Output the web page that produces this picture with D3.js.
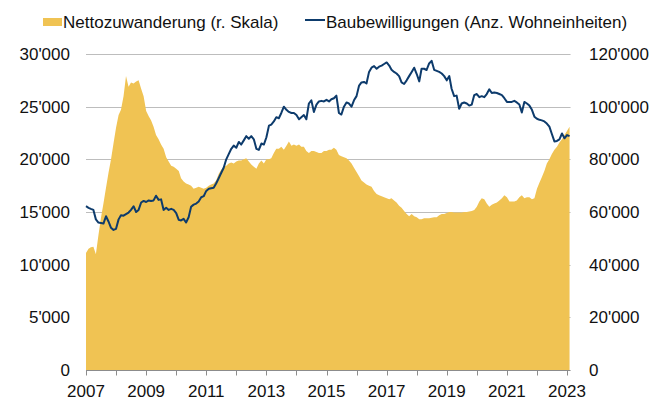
<!DOCTYPE html>
<html>
<head>
<meta charset="utf-8">
<script src="https://cdn.jsdelivr.net/npm/d3@7"></script>
<style>
body { margin: 0; background: #fff; }
svg text { font-family: "Liberation Sans", Arial, Helvetica, sans-serif; font-size: 17px; fill: #111; }
</style>
</head>
<body>
<div id="chart"></div>
<script>
// Monthly values, starting January 2007
// Nettozuwanderung (right scale)
var nettozuwanderung = [
    44400, 46000, 46600, 46800, 44000, 51200, 57600, 63200, 69200, 74800, 80000, 86000,   // 2007
    92000, 96800, 98800, 104000, 111600, 107600, 109200, 108800, 109600, 110000, 106800, 104000, // 2008
    98400, 96400, 94800, 92400, 89200, 87600, 85600, 84000, 80800, 79200, 77600, 77200,   // 2009
    76400, 75600, 72800, 71600, 70800, 70400, 70000, 68800, 69200, 69600, 69200, 68800,   // 2010
    69200, 70000, 70400, 70800, 72000, 74400, 76000, 77200, 77600, 78400, 78800, 78400,   // 2011
    79200, 79600, 79600, 80000, 80400, 79200, 78000, 77200, 76400, 78400, 79600, 78400,   // 2012
    80000, 80000, 80400, 82400, 84000, 84000, 84800, 83600, 85200, 86800, 85200, 85600,   // 2013
    85200, 85600, 84800, 84800, 83200, 82400, 83200, 83200, 82800, 82400, 82400, 83200,   // 2014
    83200, 83600, 83600, 84400, 83600, 81600, 81200, 80800, 80400, 79600, 78400, 76800,   // 2015
    75200, 73600, 72000, 71200, 70400, 70000, 69600, 68000, 66800, 66400, 66000, 65600,   // 2016
    65200, 64800, 65200, 64400, 63600, 62400, 61600, 60400, 59200, 58400, 59200, 58400,   // 2017
    58000, 57200, 57200, 57600, 57600, 57600, 57800, 58000, 58000, 58800, 59200, 59200,   // 2018
    59600, 60000, 60000, 59800, 59800, 59800, 59800, 60000, 60000, 60200, 60400, 60800,   // 2019
    62000, 64000, 65200, 64800, 63200, 62000, 62800, 63200, 63600, 64400, 65200, 66400,   // 2020
    65600, 64000, 64000, 64000, 64400, 65600, 66400, 65200, 65600, 65600, 64800, 65200,   // 2021
    68800, 71200, 73200, 75600, 78400, 80000, 82000, 83600, 84800, 86400, 87600, 89200,   // 2022
    90800, 92400                                                                          // 2023
];

// Baubewilligungen, Anz. Wohneinheiten (left scale)
var baubewilligungen = [
    15550, 15400, 15300, 15200, 14300, 14000, 13950, 13900, 14600, 14100, 13500, 13300,   // 2007
    13400, 14300, 14700, 14650, 14800, 14950, 15200, 15550, 15000, 15200, 15900, 16050,   // 2008
    15950, 16100, 16050, 16100, 16550, 16150, 16200, 15200, 15400, 15200, 15300, 15200,   // 2009
    14900, 14250, 14200, 14350, 14000, 14500, 15500, 15700, 15800, 16000, 16400, 16500,   // 2010
    17000, 17200, 17250, 17300, 17700, 18200, 18700, 19200, 20000, 20500, 21000, 21300,   // 2011
    21100, 21650, 21400, 21800, 22200, 21950, 22200, 21900, 21000, 20900, 21500, 21400,   // 2012
    22100, 23200, 23300, 23600, 24000, 23900, 24400, 25000, 24700, 24500, 24400, 24400,   // 2013
    24200, 23800, 24000, 24200, 23800, 25300, 25600, 24500, 25200, 25500, 25550, 25500,   // 2014
    25650, 25500, 25700, 25800, 26050, 24400, 24250, 25000, 25400, 25300, 25000, 25600,   // 2015
    26000, 27000, 27300, 27350, 27200, 28300, 28700, 28850, 28600, 28800, 28900, 29050,   // 2016
    29200, 28900, 28500, 28300, 28150, 27900, 27300, 27150, 27500, 27900, 28300, 28700,   // 2017
    28100, 27400, 28600, 28600, 28480, 29100, 29350, 28500, 28400, 28300, 28150, 27900,   // 2018
    27500, 27900, 26700, 26000, 26050, 24800, 25300, 25400, 25300, 25100, 25200, 26100,   // 2019
    26200, 25900, 26000, 25900, 26200, 26650, 26300, 26350, 26300, 26200, 26100, 25800,   // 2020
    25450, 25450, 25450, 25550, 25400, 25200, 24450, 25450, 25300, 25100, 24700, 24050,   // 2021
    23850, 23750, 23700, 23600, 23400, 23100, 22400, 21700, 21750, 21900, 22450, 22000,   // 2022
    22300, 22200                                                                          // 2023
];

var leftTicks = [0, 5000, 10000, 15000, 20000, 25000, 30000];
var rightTicks = [0, 20000, 40000, 60000, 80000, 100000, 120000];
var tickYears = d3.range(2007, 2024);
var labelYears = [2007, 2009, 2011, 2013, 2015, 2017, 2019, 2021, 2023];

var legendItems = ["Nettozuwanderung (r. Skala)", "Baubewilligungen (Anz. Wohneinheiten)"];

var width = 668,
    height = 400,
    gold = "#f0c353",
    navy = "#0d3b6c";

var swiss = d3.formatLocale({ decimal: ".", thousands: "'", grouping: [3], currency: ["", ""] });
var format = swiss.format(",d");

var dates = nettozuwanderung.map(function(d, i) { return new Date(2007, i, 1); });

var x = d3.scaleTime()
    .domain([new Date(2007, 0, 1), new Date(2023, 0, 1)])
    .range([86, 567]);

var yL = d3.scaleLinear().domain([0, 30000]).range([370, 54]);
var yR = d3.scaleLinear().domain([0, 120000]).range([370, 54]);

var xEnd = x(dates[dates.length - 1]) + 1;

var svg = d3.select("#chart").append("svg")
    .attr("width", width)
    .attr("height", height);

// gridlines
svg.append("g")
    .selectAll("line")
    .data(leftTicks.slice(1))
    .enter().append("line")
    .attr("x1", x.range()[0])
    .attr("x2", xEnd)
    .attr("y1", function(d) { return Math.round(yL(d)) + 0.5; })
    .attr("y2", function(d) { return Math.round(yL(d)) + 0.5; })
    .attr("stroke", "#bdbdbd")
    .attr("stroke-width", 1);

// area
var area = d3.area()
    .x(function(d, i) { return x(dates[i]); })
    .y0(yR(0))
    .y1(function(d) { return yR(d); });

svg.append("path")
    .datum(nettozuwanderung)
    .attr("d", area)
    .attr("fill", gold);

// line
var line = d3.line()
    .x(function(d, i) { return x(dates[i]); })
    .y(function(d) { return yL(d); });

svg.append("path")
    .datum(baubewilligungen)
    .attr("d", line)
    .attr("fill", "none")
    .attr("stroke", navy)
    .attr("stroke-width", 2)
    .attr("stroke-linejoin", "round");

// x axis
var axisY = Math.round(yL(0)) + 0.5;
svg.append("line")
    .attr("x1", x.range()[0])
    .attr("x2", xEnd)
    .attr("y1", axisY)
    .attr("y2", axisY)
    .attr("stroke", "#8c8c8c");

svg.append("g")
    .selectAll("line")
    .data(tickYears)
    .enter().append("line")
    .attr("x1", function(d) { return Math.round(x(new Date(d, 0, 1))) + 0.5; })
    .attr("x2", function(d) { return Math.round(x(new Date(d, 0, 1))) + 0.5; })
    .attr("y1", axisY)
    .attr("y2", axisY + 5)
    .attr("stroke", "#8c8c8c");

svg.append("g")
    .selectAll("text")
    .data(labelYears)
    .enter().append("text")
    .attr("x", function(d) { return x(new Date(d, 0, 1)); })
    .attr("y", 397)
    .attr("text-anchor", "middle")
    .text(function(d) { return d; });

// y labels
svg.append("g")
    .selectAll("text")
    .data(leftTicks)
    .enter().append("text")
    .attr("x", 70)
    .attr("y", function(d) { return yL(d); })
    .attr("dy", "0.36em")
    .attr("text-anchor", "end")
    .text(function(d) { return format(d); });

svg.append("g")
    .selectAll("text")
    .data(rightTicks)
    .enter().append("text")
    .attr("x", 589)
    .attr("y", function(d) { return yR(d); })
    .attr("dy", "0.36em")
    .attr("text-anchor", "start")
    .text(function(d) { return format(d); });

// legend
var legend = svg.append("g");
legend.append("rect")
    .attr("x", 43).attr("y", 18)
    .attr("width", 19).attr("height", 8)
    .attr("fill", gold);
legend.append("text")
    .attr("x", 63).attr("y", 28)
    .text(legendItems[0]);
legend.append("line")
    .attr("x1", 305).attr("x2", 325)
    .attr("y1", 20).attr("y2", 20)
    .attr("stroke", navy)
    .attr("stroke-width", 2);
legend.append("text")
    .attr("x", 326).attr("y", 28)
    .text(legendItems[1]);
</script>
</body>
</html>
